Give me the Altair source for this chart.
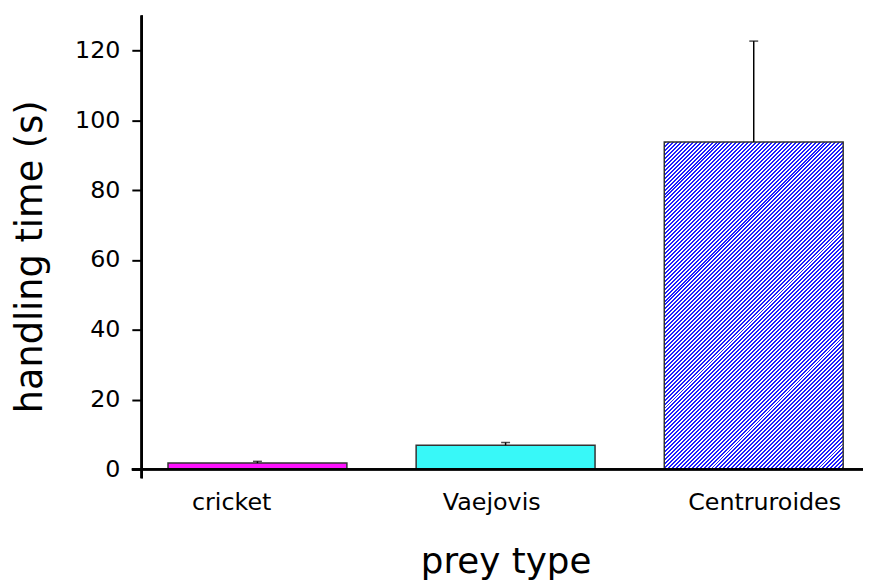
import altair as alt
import pandas as pd

# ---- data ----
prey = ["cricket", "Vaejovis", "Centruroides"]
mean_time = [1.8, 6.9, 93.8]
err_time = [0.5, 0.8, 28.9]

df = pd.DataFrame({"prey": prey, "mean": mean_time, "err": err_time})
df["upper"] = df["mean"] + df["err"]

# ---- layout constants ----
W, H = 728, 458
YMAX = 130
X_RANGE = [26.5, 708]
P_INNER = 0.279
step = (X_RANGE[1] - X_RANGE[0]) / (len(prey) - P_INNER)
bandw = step * (1 - P_INNER)

FONT = "DejaVu Sans"


def hatch(w, h, period=4.0, on=2.0, phase=0.25, c1="#1e1eff", c2="#ffffff"):
    """Diagonal (/) stripe fill as a hard-stop linear gradient (pixel units along x+y)."""
    L = w + h
    k = L / (w * w + h * h)
    stops = [{"offset": 0, "color": c2}]
    t = phase
    while t < L:
        a = t / L
        b = min(t + on, L) / L
        stops += [
            {"offset": a, "color": c2},
            {"offset": a, "color": c1},
            {"offset": b, "color": c1},
            {"offset": b, "color": c2},
        ]
        t += period
    stops.append({"offset": 1, "color": stops[-1]["color"]})
    return {"gradient": "linear", "x1": 0, "y1": 0, "x2": k * w, "y2": k * h, "stops": stops}


cent_h = mean_time[2] / YMAX * H
grad = hatch(bandw, cent_h)

x_enc = alt.X(
    "prey:N",
    sort=prey,
    scale=alt.Scale(range=X_RANGE, paddingInner=P_INNER, paddingOuter=0),
    axis=alt.Axis(
        title="prey type",
        domain=False,
        ticks=False,
        tickSize=0,
        grid=False,
        labelAngle=0,
        labelFont=FONT,
        labelFontSize=24,
        labelColor="black",
        labelBaseline="alphabetic",
        labelPadding=41,
        labelOffset={
            "condition": [
                {"test": "datum.value === 'cricket'", "value": -26},
                {"test": "datum.value === 'Vaejovis'", "value": -14},
            ],
            "value": 11,
        },
        titleFont=FONT,
        titleFontSize=36,
        titleFontWeight="normal",
        titleColor="black",
        titleBaseline="alphabetic",
        titleY=104,
    ),
)

y_scale = alt.Scale(domain=[0, YMAX], nice=False, zero=True)

bars = alt.Chart(df).mark_bar(stroke="#333333", strokeWidth=1.5).encode(
    x=x_enc,
    y=alt.Y(
        "mean:Q",
        scale=y_scale,
        axis=alt.Axis(
            title="handling time (s)",
            values=[0, 20, 40, 60, 80, 100, 120],
            domain=False,
            grid=False,
            tickColor="black",
            tickWidth=2,
            tickSize=10,
            labelFont=FONT,
            labelFontSize=24,
            labelColor="black",
            labelPadding=12,
            titleFont=FONT,
            titleFontSize=37,
            titleFontWeight="normal",
            titleColor="black",
            titleAngle=270,
            titleAlign="center",
            titleBaseline="alphabetic",
            titleX=-101,
            titleY=243,
        ),
    ),
    fill=alt.FillValue(
        grad,
        condition=[
            {"test": "datum.prey === 'cricket'", "value": "#ff14ff"},
            {"test": "datum.prey === 'Vaejovis'", "value": "#38f8f8"},
        ],
    ),
)

err_rule = alt.Chart(df).mark_rule(color="black", strokeWidth=1.5).encode(
    x=alt.X("prey:N", sort=prey),
    y=alt.Y("mean:Q", scale=y_scale),
    y2="upper:Q",
)

caps = alt.Chart(df).mark_tick(color="black", thickness=1.5, size=9).encode(
    x=alt.X("prey:N", sort=prey),
    y=alt.Y("upper:Q", scale=y_scale),
)

x_line = alt.Chart(df).mark_rule(color="black", strokeWidth=2.5).encode(
    y=alt.value(H),
    x=alt.value(-10),
    x2=alt.value(W),
)

y_line = alt.Chart(df).mark_rule(color="black", strokeWidth=2.5).encode(
    x=alt.value(0),
    y=alt.value(0),
    y2=alt.value(H + 9),
)

chart = (
    alt.layer(bars, err_rule, caps, x_line, y_line)
    .properties(
        width=W,
        height=H,
        background="white",
        autosize=alt.AutoSizeParams(type="none"),
        padding={"left": 135, "top": 5, "right": 0, "bottom": 113},
    )
    .configure_view(stroke="transparent", strokeWidth=0)
    .configure_axis(grid=False)
)

chart.save("out.html", embed_options={"renderer": "svg", "actions": False})
